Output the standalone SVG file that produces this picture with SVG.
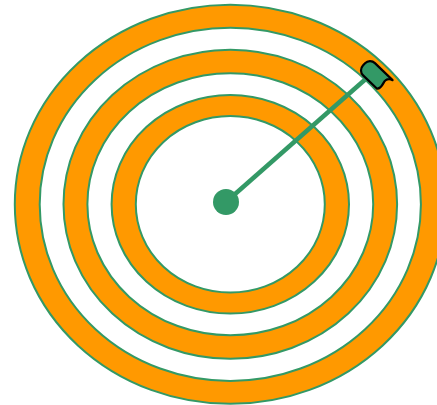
<svg xmlns="http://www.w3.org/2000/svg" width="437" height="405" viewBox="0 0 437 405">
  <style>
    .ring { fill: #FF9900; fill-rule: evenodd; stroke: #339966; stroke-width: 2; }
    .conn { stroke: #339966; stroke-width: 4.5; fill: none; }
    .dot { fill: #339966; }
    .head { fill: #339966; stroke: #000; stroke-width: 2.2; stroke-linejoin: round; }
  </style>
  <rect width="437" height="405" fill="#fff"/>
  <g id="rings">
    <g id="ring-outer">
      <path class="ring" d="M 14.8 204.3 A 215.5 199.5 0 1 0 445.8 204.3 A 215.5 199.5 0 1 0 14.8 204.3 Z M 39.7 204.3 A 190.6 176.5 0 1 0 420.9 204.3 A 190.6 176.5 0 1 0 39.7 204.3 Z"/>
    </g>
    <g id="ring-middle">
      <path class="ring" d="M 63.5 204.3 A 166.8 154.5 0 1 0 397.1 204.3 A 166.8 154.5 0 1 0 63.5 204.3 Z M 87.4 204.3 A 142.9 130.9 0 1 0 373.2 204.3 A 142.9 130.9 0 1 0 87.4 204.3 Z"/>
    </g>
    <g id="ring-inner">
      <path class="ring" d="M 111.6 204.3 A 118.7 109.2 0 1 0 349 204.3 A 118.7 109.2 0 1 0 111.6 204.3 Z M 135.8 204.3 A 94.5 88.2 0 1 0 324.8 204.3 A 94.5 88.2 0 1 0 135.8 204.3 Z"/>
    </g>
  </g>
  <g id="connectors">
    <line class="conn" x1="226" y1="202" x2="368" y2="77"/>
  </g>
  <g id="center">
    <circle class="dot" cx="226" cy="202" r="13"/>
  </g>
  <g id="head" transform="translate(375.5 75.5) rotate(44)">
    <path class="head" d="M -9 -8.5 H 15.5 C 11 -7 10 -3.5 11 0 C 12 3.5 12 7 10 8.5 H -9 A 7 7 0 0 1 -16 1.5 V -1.5 A 7 7 0 0 1 -9 -8.5 Z"/>
  </g>
</svg>
